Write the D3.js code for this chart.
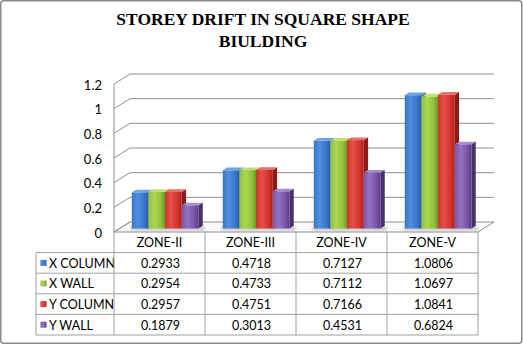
<!DOCTYPE html>
<html><head><meta charset="utf-8">
<script src="https://cdn.jsdelivr.net/npm/d3@7"></script>
<style>
html,body{margin:0;padding:0;background:#fff;}
svg{display:block;}
</style></head>
<body>
<svg id="chart" width="523" height="346"></svg>
<script>
const categories = ["ZONE-II", "ZONE-III", "ZONE-IV", "ZONE-V"];
const seriesNames = ["X COLUMN", "X WALL", "Y COLUMN", "Y WALL"];
const xColumn = [0.2933, 0.4718, 0.7127, 1.0806];
const xWall   = [0.2954, 0.4733, 0.7112, 1.0697];
const yColumn = [0.2957, 0.4751, 0.7166, 1.0841];
const yWall   = [0.1879, 0.3013, 0.4531, 0.6824];
const yTicks  = [0, 0.2, 0.4, 0.6, 0.8, 1, 1.2];
const titleLines = ["STOREY DRIFT IN SQUARE SHAPE", "BIULDING"];

const seriesValues = [xColumn, xWall, yColumn, yWall];
const palette = [
  {light:"#4f8ee0", mid:"#3a76c8", dark:"#2a5a9c", side:"#24497f", top:"#6fa3e6"},
  {light:"#acd653", mid:"#92c03c", dark:"#6f962a", side:"#5c7e22", top:"#bfe06f"},
  {light:"#e4504a", mid:"#d2332e", dark:"#a82521", side:"#8a1d1a", top:"#ea6f69"},
  {light:"#9372c2", mid:"#7955a8", dark:"#583d82", side:"#47316a", top:"#a98bd0"}
];

const svg = d3.select("#chart");
const defs = svg.append("defs");
palette.forEach((p,i)=>{
  const g = defs.append("linearGradient").attr("id","gf"+i).attr("x1","0").attr("x2","1").attr("y1","0").attr("y2","0");
  g.append("stop").attr("offset","0").attr("stop-color",p.mid);
  g.append("stop").attr("offset","0.35").attr("stop-color",p.light);
  g.append("stop").attr("offset","0.75").attr("stop-color",p.mid);
  g.append("stop").attr("offset","1").attr("stop-color",p.dark);
});
const blur = defs.append("filter").attr("id","blur").attr("x","-20%").attr("y","-50%").attr("width","140%").attr("height","200%");
blur.append("feGaussianBlur").attr("stdDeviation","1.5");

// outer frame
svg.append("rect").attr("x",0.75).attr("y",0.75).attr("width",521).attr("height",342.5)
  .attr("rx",3).attr("fill","#fff").attr("stroke","#8c8c8c").attr("stroke-width",1.5);

// title
svg.append("g").selectAll("text").data(titleLines).join("text")
  .attr("x",263).attr("y",(d,i)=>24.5+i*22.5)
  .attr("text-anchor","middle")
  .attr("font-family","'Liberation Serif','Times New Roman',serif")
  .attr("font-weight","bold").attr("font-size",17.5).attr("fill","#000")
  .text(d=>d);

// scales
const x = d3.scaleBand().domain(categories).range([114, 478]).paddingInner(0).paddingOuter(0);
const y = d3.scaleLinear().domain([0, 1.2]).range([232, 84]);
const DX = 16, DY = -10; // full depth offset
const inner = d3.scaleBand().domain(seriesNames).range([0, x.bandwidth()]).paddingInner(0).paddingOuter(0.73);
const fFront = 0.35, fDepth = 0.27;

const x0 = x.range()[0], x1 = x.range()[1];
const gridColor = "#8f8f8f";

// floor
svg.append("path")
  .attr("d", `M${x0},${y(0)} L${x1},${y(0)} L${x1+DX},${y(0)+DY} L${x0+DX},${y(0)+DY} Z`)
  .attr("fill","#fafafa").attr("stroke",gridColor).attr("stroke-width",1);

// back wall gridlines + left wall diagonals
const grid = svg.append("g");
yTicks.forEach(t=>{
  if (t>0) grid.append("line").attr("x1",x0+DX).attr("x2",x1+DX).attr("y1",y(t)+DY).attr("y2",y(t)+DY)
    .attr("stroke",gridColor).attr("stroke-width",1);
  grid.append("line").attr("x1",x0).attr("y1",y(t)).attr("x2",x0+DX).attr("y2",y(t)+DY)
    .attr("stroke",gridColor).attr("stroke-width",1);
});
// left wall front edge
grid.append("line").attr("x1",x0).attr("x2",x0).attr("y1",y(1.2)).attr("y2",y(0)).attr("stroke",gridColor);

// y labels
svg.append("g").selectAll("text").data(yTicks).join("text")
  .attr("x",102).attr("y",d=>y(d)+1).attr("dy","0.35em").attr("text-anchor","end")
  .attr("font-family","Lato, 'Open Sans', sans-serif").attr("font-size",13).attr("fill","#000")
  .text(d=>String(d));

// shadows under groups
categories.forEach((c,ci)=>{
  const bx = x(c) + inner(seriesNames[0]) + fFront*DX;
  const bw = inner.bandwidth()*4 + fDepth*DX;
  const by = y(0) + fFront*DY;
  svg.append("rect").attr("x",bx-1).attr("y",by-2).attr("width",bw+3).attr("height",4)
    .attr("fill","#9a9a9a").attr("opacity",0.55).attr("filter","url(#blur)");
});

// bars
const bars = svg.append("g");
categories.forEach((c,ci)=>{
  seriesNames.forEach((s,si)=>{
    const v = seriesValues[si][ci];
    const p = palette[si];
    const fx = x(c) + inner(s) + fFront*DX;
    const fy0 = y(0) + fFront*DY;
    const fy1 = y(v) + fFront*DY;
    const w = inner.bandwidth();
    const ddx = fDepth*DX, ddy = fDepth*DY;
    const g = bars.append("g");
    // side face
    g.append("path").attr("d",`M${fx+w},${fy1} L${fx+w+ddx},${fy1+ddy} L${fx+w+ddx},${fy0+ddy} L${fx+w},${fy0} Z`)
      .attr("fill",p.side);
    // top face
    g.append("path").attr("d",`M${fx},${fy1} L${fx+ddx},${fy1+ddy} L${fx+w+ddx},${fy1+ddy} L${fx+w},${fy1} Z`)
      .attr("fill",p.top);
    // front face
    g.append("rect").attr("x",fx).attr("y",fy1).attr("width",w).attr("height",fy0-fy1)
      .attr("fill","url(#gf"+si+")");
  });
});

// data table
const tableColor = "#a0a0a0";
const rowH = 20.6;
const tTop = y(0);
const legendLeft = 36;
const table = svg.append("g");
const font = "Lato, 'Open Sans', sans-serif";
// header row
categories.forEach((c)=>{
  table.append("text").attr("x",x(c)+x.bandwidth()/2).attr("y",tTop+rowH/2+0.5).attr("dy","0.35em")
    .attr("text-anchor","middle").attr("font-family",font).attr("font-size",12.5).attr("fill","#000").text(c);
});
// rows
seriesNames.forEach((s,si)=>{
  const ry = tTop + rowH*(si+1);
  table.append("rect").attr("x",40.5).attr("y",ry+rowH/2-3).attr("width",6).attr("height",6)
    .attr("fill","url(#gf"+si+")");
  table.append("text").attr("x",49).attr("y",ry+rowH/2+0.5).attr("dy","0.35em")
    .attr("font-family",font).attr("font-size",12.5).attr("fill","#000").text(s);
  categories.forEach((c,ci)=>{
    table.append("text").attr("x",x(c)+x.bandwidth()/2+1).attr("y",ry+rowH/2+0.5).attr("dy","0.35em")
      .attr("text-anchor","middle").attr("font-family",font).attr("font-size",12.5).attr("fill","#000")
      .text(seriesValues[si][ci].toFixed(4));
  });
});
// table lines
for (let r=1;r<=5;r++){
  const ly = tTop + rowH*r;
  table.append("line").attr("x1",legendLeft).attr("x2",x1).attr("y1",ly).attr("y2",ly).attr("stroke",tableColor);
}
table.append("line").attr("x1",legendLeft).attr("x2",legendLeft).attr("y1",tTop+rowH).attr("y2",tTop+rowH*5).attr("stroke",tableColor);
categories.concat([null]).forEach((c)=>{
  const lx = c===null ? x1 : x(c);
  table.append("line").attr("x1",lx).attr("x2",lx).attr("y1",tTop).attr("y2",tTop+rowH*5).attr("stroke",tableColor);
});
</script>
</body></html>
